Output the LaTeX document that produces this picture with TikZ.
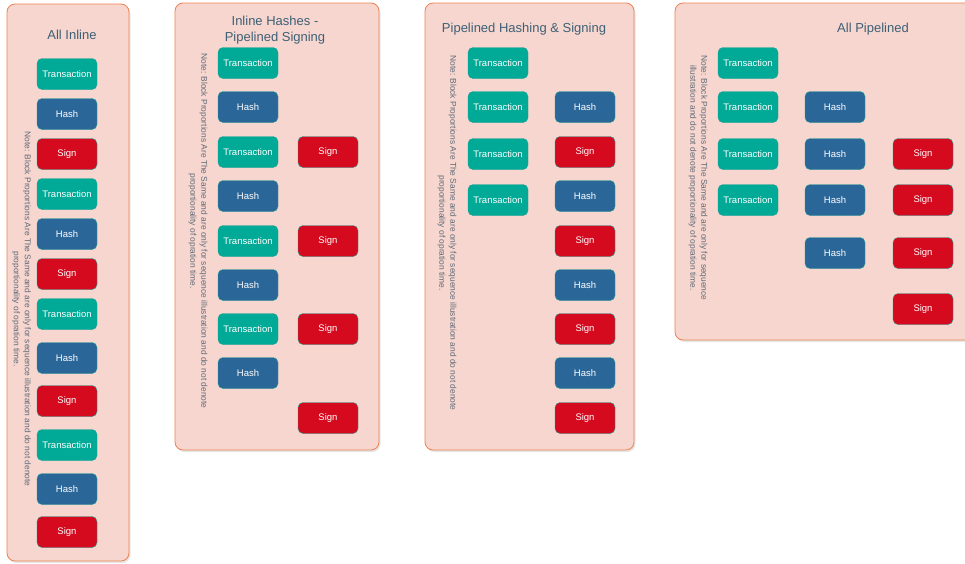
\documentclass[tikz,border=0pt]{standalone}
\usepackage{fontspec}
\setmainfont{Liberation Sans}
\usetikzlibrary{positioning,shadows}

\definecolor{txfill}{RGB}{0,170,150}
\definecolor{hashfill}{RGB}{43,102,153}
\definecolor{signfill}{RGB}{213,10,30}
\definecolor{boxedge}{RGB}{30,160,150}
\definecolor{panelfill}{RGB}{246,214,207}
\definecolor{paneledge}{RGB}{236,130,80}
\definecolor{titletext}{RGB}{62,96,118}
\definecolor{notetext}{RGB}{95,105,118}

\tikzset{
  block/.style={draw=boxedge, rounded corners=5pt, minimum width=60pt, minimum height=31pt,
    inner sep=0pt, text=white, font=\fontsize{9.5}{11}\selectfont},
  txbox/.style={block, fill=txfill},
  hashbox/.style={block, fill=hashfill},
  signbox/.style={block, fill=signfill},
  panel/.style={draw=paneledge, fill=panelfill, rounded corners=8pt, line width=0.8pt,
    drop shadow={shadow xshift=1.5pt, shadow yshift=-2pt, opacity=0.2}},
  ptitle/.style={text=titletext, font=\fontsize{13}{16.5}\selectfont, align=center},
  pnote/.style={text=notetext, font=\fontsize{8.4}{11}\selectfont, align=center, rotate=-90}
}

\begin{document}
\begin{tikzpicture}[x=1pt, y=-1pt]
    \useasboundingbox (0,-1) rectangle (965,562);

    % panels
    \draw[panel] (7,3) rectangle (129,560);
    \draw[panel] (175,2) rectangle (379,449);
    \draw[panel] (425,2) rectangle (634,449);
    \draw[panel] (675,2) rectangle (985,339);

    % titles
    \node[ptitle] (title1) at (72,34) {All Inline};
    \node[ptitle] (title2) at (275,29) {Inline Hashes -\\Pipelined Signing};
    \node[ptitle] (title3) at (524,28) {Pipelined Hashing \& Signing};
    \node[ptitle] (title4) at (873,28) {All Pipelined};

    % notes
    \node[pnote] (note1) at (21.5,308) {Note: Block Proportions Are The Same and are only for sequence illustration and do not denote\\proportionality of opration time.};
    \node[pnote] (note2) at (198,230) {Note: Block Proportions Are The Same and are only for sequence illustration and do not denote\\proportionality of opration time.};
    \node[pnote] (note3) at (447,232) {Note: Block Proportions Are The Same and are only for sequence illustration and do not denote\\proportionality of opration time.};
    \node[pnote] (note4) at (698,177) {Note: Block Proportions Are The Same and are only for sequence\\illustration and do not denote proportionality of opration time.};

    % all inline
    \foreach \y/\k/\t [count=\i] in {73/txbox/Transaction, 113/hashbox/Hash, 153/signbox/Sign,
        193/txbox/Transaction, 233/hashbox/Hash, 273/signbox/Sign,
        313/txbox/Transaction, 357/hashbox/Hash, 400/signbox/Sign,
        444/txbox/Transaction, 488/hashbox/Hash, 531/signbox/Sign}
      \node[\k] (a\i) at (67,\y) {\t};

    % inline hashes, pipelined signing
    \foreach \y/\k/\t [count=\i] in {62/txbox/Transaction, 106/hashbox/Hash, 151/txbox/Transaction,
        195/hashbox/Hash, 240/txbox/Transaction, 284/hashbox/Hash,
        328/txbox/Transaction, 372/hashbox/Hash}
      \node[\k] (b\i) at (248,\y) {\t};
    \foreach \y [count=\i] in {151,240,328,417}
      \node[signbox] (bs\i) at (328,\y) {Sign};

    % pipelined hashing and signing
    \foreach \y [count=\i] in {62,106,153,199}
      \node[txbox] (c\i) at (498,\y) {Transaction};
    \foreach \y/\k/\t [count=\i] in {106/hashbox/Hash, 151/signbox/Sign, 195/hashbox/Hash,
        240/signbox/Sign, 284/hashbox/Hash, 328/signbox/Sign,
        372/hashbox/Hash, 417/signbox/Sign}
      \node[\k] (cs\i) at (585,\y) {\t};

    % all pipelined
    \foreach \y [count=\i] in {62,106,153,199}
      \node[txbox] (d\i) at (748,\y) {Transaction};
    \foreach \y [count=\i] in {106,153,199,252}
      \node[hashbox] (dh\i) at (835,\y) {Hash};
    \foreach \y [count=\i] in {153,199,252,308}
      \node[signbox] (ds\i) at (923,\y) {Sign};
\end{tikzpicture}
\end{document}
